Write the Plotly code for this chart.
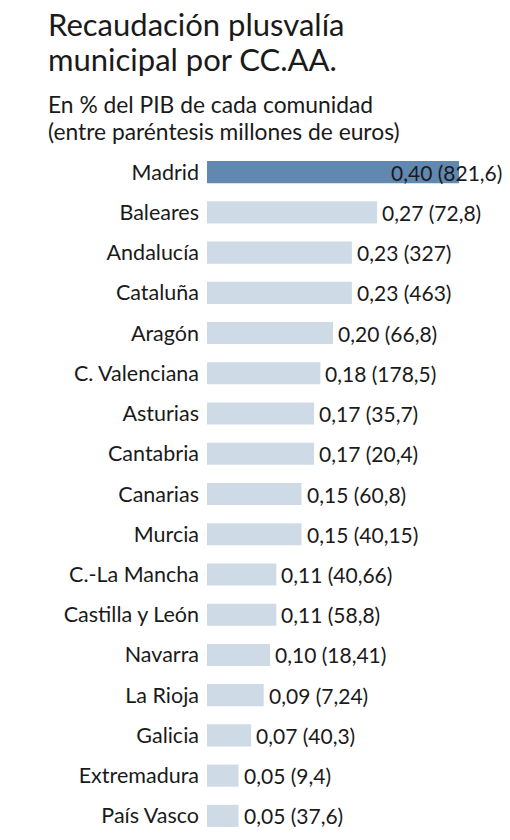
import plotly.graph_objects as go

regions = ["Madrid", "Baleares", "Andalucía", "Cataluña", "Aragón", "C. Valenciana",
           "Asturias", "Cantabria", "Canarias", "Murcia", "C.-La Mancha",
           "Castilla y León", "Navarra", "La Rioja", "Galicia", "Extremadura", "País Vasco"]
pct_gdp = [0.40, 0.27, 0.23, 0.23, 0.20, 0.18, 0.17, 0.17, 0.15, 0.15, 0.11,
           0.11, 0.10, 0.09, 0.07, 0.05, 0.05]
millions = ["821,6", "72,8", "327", "463", "66,8", "178,5", "35,7", "20,4", "60,8",
            "40,15", "40,66", "58,8", "18,41", "7,24", "40,3", "9,4", "37,6"]

title_lines = ["Recaudación plusvalía", "municipal por CC.AA."]
subtitle_lines = ["En % del PIB de cada comunidad", "(entre paréntesis millones de euros)"]

W, H = 510, 840
FONT = "Lato"
INK = "#1a1a1a"
DARK = "#6088b1"
LIGHT = "#cedbe7"

colors = [DARK if r == "Madrid" else LIGHT for r in regions]

fig = go.Figure()
fig.add_trace(go.Bar(
    x=pct_gdp, y=regions, orientation="h",
    marker=dict(color=colors, line_width=0),
    width=0.55, hoverinfo="skip",
))

for r, v, m in zip(regions, pct_gdp, millions):
    label = f"{v:.2f}".replace(".", ",") + f" ({m})"
    fig.add_annotation(
        x=v, y=r, xref="x", yref="y", text=label, showarrow=False,
        xanchor="left", yanchor="middle",
        xshift=-70 if r == "Madrid" else 3,
        font=dict(family=FONT, size=21, color=INK),
    )

# header lines, placed by pixel row (centre of each line)
for line, ypx in zip(title_lines, [24, 59]):
    fig.add_annotation(
        x=46 / W, y=1 - ypx / H, xref="paper", yref="paper", xanchor="left", yanchor="middle",
        text=line, showarrow=False, font=dict(family=FONT, size=31, color=INK),
    )
for line, ypx in zip(subtitle_lines, [104, 131]):
    fig.add_annotation(
        x=46 / W, y=1 - ypx / H, xref="paper", yref="paper", xanchor="left", yanchor="middle",
        text=line, showarrow=False, font=dict(family=FONT, size=22.8, color=INK),
    )

fig.update_layout(
    width=W, height=H,
    margin=dict(l=0, r=0, t=0, b=0),
    paper_bgcolor="white", plot_bgcolor="white",
    showlegend=False,
    font=dict(family=FONT, color=INK),
)
fig.update_xaxes(domain=[207 / W, 1], range=[0, 303 / 630], visible=False, fixedrange=True)
fig.update_yaxes(
    domain=[4 / H, 1 - 152 / H], range=[16.5, -0.5], autorange=False,
    showgrid=False, zeroline=False, showline=False, ticks="",
    ticklabelstandoff=7, tickfont=dict(family=FONT, size=21.5, color=INK), fixedrange=True,
)

fig.write_html("out.html", config={"displayModeBar": False},
               post_script="document.body.style.margin='0';")
